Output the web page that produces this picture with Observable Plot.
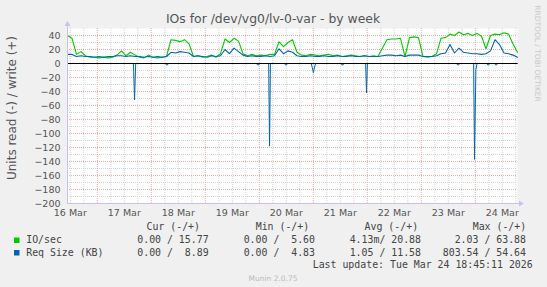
<!DOCTYPE html>
<html>
<head>
<meta charset="utf-8">
<script src="https://cdn.jsdelivr.net/npm/d3@7"></script>
<script src="https://cdn.jsdelivr.net/npm/@observablehq/plot@0.6"></script>
<style>
html,body{margin:0;padding:0;background:#F0F0F0;}
svg{display:block;}
</style>
</head>
<body>
<div id="chart"></div>
<script>
const title = "IOs for /dev/vg0/lv-0-var - by week";
const yLabel = "Units read (-) / write (+)";
const watermark = "RRDTOOL / TOBI OETIKER";
const footer = "Munin 2.0.75";
const lastUpdate = "Last update: Tue Mar 24 18:45:11 2026";

const startTime = "2026-03-16T10:45:00Z";
const stepHours = 2;
const spanHours = 200;

// IO/sec write (+), every 2 hours
const ioWrite = [
  40, 36, 13, 17, 11, 9, 9, 8, 9, 8,
  9, 12, 18, 11, 16, 12, 9, 8, 12, 9,
  8, 9, 10, 34, 33, 31, 34, 28, 10, 11,
  9, 10, 12, 9, 14, 35, 30, 36, 32, 14,
  11, 13, 11, 12, 11, 13, 13, 31, 24, 30,
  34, 16, 12, 11, 13, 12, 11, 12, 13, 11,
  12, 10, 11, 12, 11, 10, 11, 10, 11, 10,
  22, 34, 35, 35, 36, 10, 37, 38, 37, 10,
  9, 10, 14, 36, 37, 42, 40, 45, 41, 43,
  40, 43, 39, 21, 40, 42, 41, 44, 42, 28,
  16
];
// Req Size (KB) write (+), every 2 hours
const reqWrite = [
  13, 13, 10, 11, 10, 10, 9, 10, 9, 10,
  10, 11, 11, 10, 11, 10, 10, 9, 10, 9,
  10, 9, 10, 16, 15, 17, 16, 15, 10, 11,
  10, 9, 11, 10, 11, 20, 14, 22, 17, 12,
  10, 11, 10, 10, 11, 10, 11, 21, 14, 18,
  16, 11, 10, 10, 11, 10, 10, 11, 10, 10,
  11, 10, 10, 11, 10, 10, 11, 10, 10, 10,
  11, 12, 12, 11, 12, 10, 12, 12, 12, 10,
  10, 10, 11, 14, 15, 27, 15, 22, 16, 15,
  14, 14, 13, 14, 18, 34, 27, 15, 14, 12,
  9
];
// Req Size (KB) read (-), hours after start
const reqReadHours = [0, 29.3, 29.8, 30.3, 43.7, 43.9, 44.5, 44.7, 84.2, 84.4, 85.0, 85.2,
  89.4, 89.8, 90.2, 96.6, 96.8, 97.4, 97.6, 108.3, 108.8, 109.3, 109.8, 110.3,
  121.7, 121.9, 122.5, 122.7, 132.5, 132.9, 133.3, 173.1, 173.3, 173.9, 174.1,
  180.5, 180.9, 181.5, 182.0, 186.5, 186.7, 187.3, 187.5, 190.0, 190.2, 190.8, 191.0, 200];
const reqRead = [0, 0, -52, 0, 0, -2, -2, 0, 0, -2, -2, 0,
  0, -118, 0, 0, -2, -2, 0, 0, -6, -13, -5, 0,
  0, -2, -2, 0, 0, -42, 0, 0, -2, -2, 0,
  0, -137, -9, 0, 0, -2, -2, 0, 0, -2, -2, 0, 0];
// IO/sec read (-)
const ioReadHours = [0, 200];
const ioRead = [0, 0];

const xTickDays = ["2026-03-16", "2026-03-17", "2026-03-18", "2026-03-19", "2026-03-20",
  "2026-03-21", "2026-03-22", "2026-03-23", "2026-03-24"];
const xTickLabels = ["16 Mar", "17 Mar", "18 Mar", "19 Mar", "20 Mar", "21 Mar", "22 Mar", "23 Mar", "24 Mar"];
const yTicks = [-200, -180, -160, -140, -120, -100, -80, -60, -40, -20, 0, 20, 40];
const yMinor = [-190, -170, -150, -130, -110, -90, -70, -50, -30, -10, 10, 30];

const seriesNames = ["IO/sec", "Req Size (KB)"];
const seriesColors = ["#00CC00", "#0066B3"];
const legendHeaders = ["Cur (-/+)", "Min (-/+)", "Avg (-/+)", "Max (-/+)"];
const curValues = ["0.00 / 15.77", "0.00 /  8.89"];
const minValues = ["0.00 /  5.60", "0.00 /  4.83"];
const avgValues = ["4.13m/ 20.88", "1.05 / 11.58"];
const maxValues = ["2.03 / 63.88", "803.54 / 54.64"];

// ---- build
const startMs = Date.parse(startTime);
const t = h => new Date(startMs + h * 3600e3);
const ioW = ioWrite.map((v, i) => ({t: t(i * stepHours), v}));
const reqW = reqWrite.map((v, i) => ({t: t(i * stepHours), v}));
const reqR = reqRead.map((v, i) => ({t: t(reqReadHours[i]), v}));
const ioR = ioRead.map((v, i) => ({t: t(ioReadHours[i]), v}));

const t0 = t(0), t1 = t(spanHours);
const majorX = d3.utcDay.range(t0, t1);
const minorX = d3.utcHour.every(6).range(t0, t1).filter(d => d.getUTCHours() !== 0);
const noonTicks = xTickDays.map(d => new Date(d + "T12:00:00Z"));

const gridMinor = "#D4D4D4";
const gridMajor = "#E8AEAE";
const axisCol = "#C4C4EC";

const plot = Plot.plot({
  width: 547,
  height: 287,
  marginLeft: 67,
  marginRight: 30,
  marginTop: 28,
  marginBottom: 84,
  style: {background: "#F0F0F0", fontFamily: "DejaVu Sans", fontSize: "9.5px", color: "#555555", overflow: "visible"},
  x: {type: "utc", domain: [t0, t1], label: null},
  y: {domain: [-200, 50], label: null},
  marks: [
    Plot.frame({fill: "#FFFFFF", stroke: "none"}),
    Plot.ruleY(yMinor, {stroke: gridMinor, strokeDasharray: "1,1"}),
    Plot.ruleX(minorX, {stroke: gridMinor, strokeDasharray: "1,1"}),
    Plot.ruleY(yTicks, {stroke: gridMajor, strokeDasharray: "1,1"}),
    Plot.ruleX(majorX, {stroke: gridMajor, strokeDasharray: "1,1"}),
    Plot.line(ioR, {x: "t", y: "v", stroke: seriesColors[0], strokeWidth: 1}),
    Plot.line(reqR, {x: "t", y: "v", stroke: seriesColors[1], strokeWidth: 1}),
    Plot.line(ioW, {x: "t", y: "v", stroke: seriesColors[0], strokeWidth: 1.1}),
    Plot.line(reqW, {x: "t", y: "v", stroke: seriesColors[1], strokeWidth: 1.1}),
    Plot.ruleY([0], {stroke: "#000000", strokeWidth: 1.2}),
    Plot.axisY({ticks: yTicks, tickSize: 0, tickPadding: 7, label: null}),
    Plot.axisX({ticks: noonTicks, tickFormat: (d, i) => xTickLabels[i], tickSize: 0, tickPadding: 6, label: null})
  ]
});
document.getElementById("chart").appendChild(plot);

const svg = d3.select(plot);
const xs = plot.scale("x"), ys = plot.scale("y");
const ax0 = xs.apply(t0), ax1 = xs.apply(t1);
const ay0 = ys.apply(-200), ayTop = ys.apply(50);

// axis lines and arrowheads
const g = svg.append("g");
g.append("line").attr("x1", ax0 + 0.5).attr("x2", ax0 + 0.5).attr("y1", ay0).attr("y2", ayTop - 2).attr("stroke", axisCol);
g.append("line").attr("x1", ax0).attr("x2", ax1 + 2).attr("y1", ay0 + 0.5).attr("y2", ay0 + 0.5).attr("stroke", axisCol);
g.append("path").attr("d", `M${ax0 + 0.5},${ayTop - 7} L${ax0 - 2.5},${ayTop - 2} L${ax0 + 3.5},${ayTop - 2} Z`).attr("fill", axisCol);
g.append("path").attr("d", `M${ax1 + 7},${ay0 + 0.5} L${ax1 + 2},${ay0 - 2.5} L${ax1 + 2},${ay0 + 3.5} Z`).attr("fill", axisCol);

// title
svg.append("text").attr("x", 273).attr("y", 23).attr("text-anchor", "middle")
  .attr("font-family", "DejaVu Sans").attr("font-size", "12.4px").attr("fill", "#555555").text(title);
// y label
svg.append("text").attr("transform", `translate(15.5,108) rotate(-90)`).attr("text-anchor", "middle")
  .attr("font-family", "DejaVu Sans").attr("font-size", "12px").attr("fill", "#555555").text(yLabel);
// watermark
svg.append("text").attr("transform", `translate(535,53.5) rotate(90)`).attr("text-anchor", "middle")
  .attr("font-family", "DejaVu Sans").attr("font-size", "7.5px").attr("fill", "#C8C8C8").text(watermark);

// legend
const mono = {"font-family": "DejaVu Sans Mono", "font-size": "9.9px", fill: "#444444"};
function mtext(x, y, s, anchor) {
  const el = svg.append("text").attr("x", x).attr("y", y).attr("text-anchor", anchor || "start")
    .style("white-space", "pre").attr("xml:space", "preserve").text(s);
  for (const k in mono) el.attr(k, mono[k]);
  return el;
}
const headerX = [146.5, 255.7, 364.6, 472.7];
legendHeaders.forEach((h, i) => mtext(headerX[i], 229.5, h));
const rowY = [243, 255.5];
const colEnd = [208.6, 315, 421, 526];
seriesNames.forEach((name, i) => {
  svg.append("rect").attr("x", 14).attr("y", rowY[i] - 5.5).attr("width", 5.5).attr("height", 5.5).attr("fill", seriesColors[i]);
  mtext(26.2, rowY[i], name);
  [curValues, minValues, avgValues, maxValues].forEach((arr, j) => mtext(colEnd[j], rowY[i], arr[i], "end"));
});
mtext(532.7, 268, lastUpdate, "end");
svg.append("text").attr("x", 273).attr("y", 281).attr("text-anchor", "middle")
  .attr("font-family", "DejaVu Sans").attr("font-size", "7.5px").attr("fill", "#BBBBBB").text(footer);
</script>
</body>
</html>
